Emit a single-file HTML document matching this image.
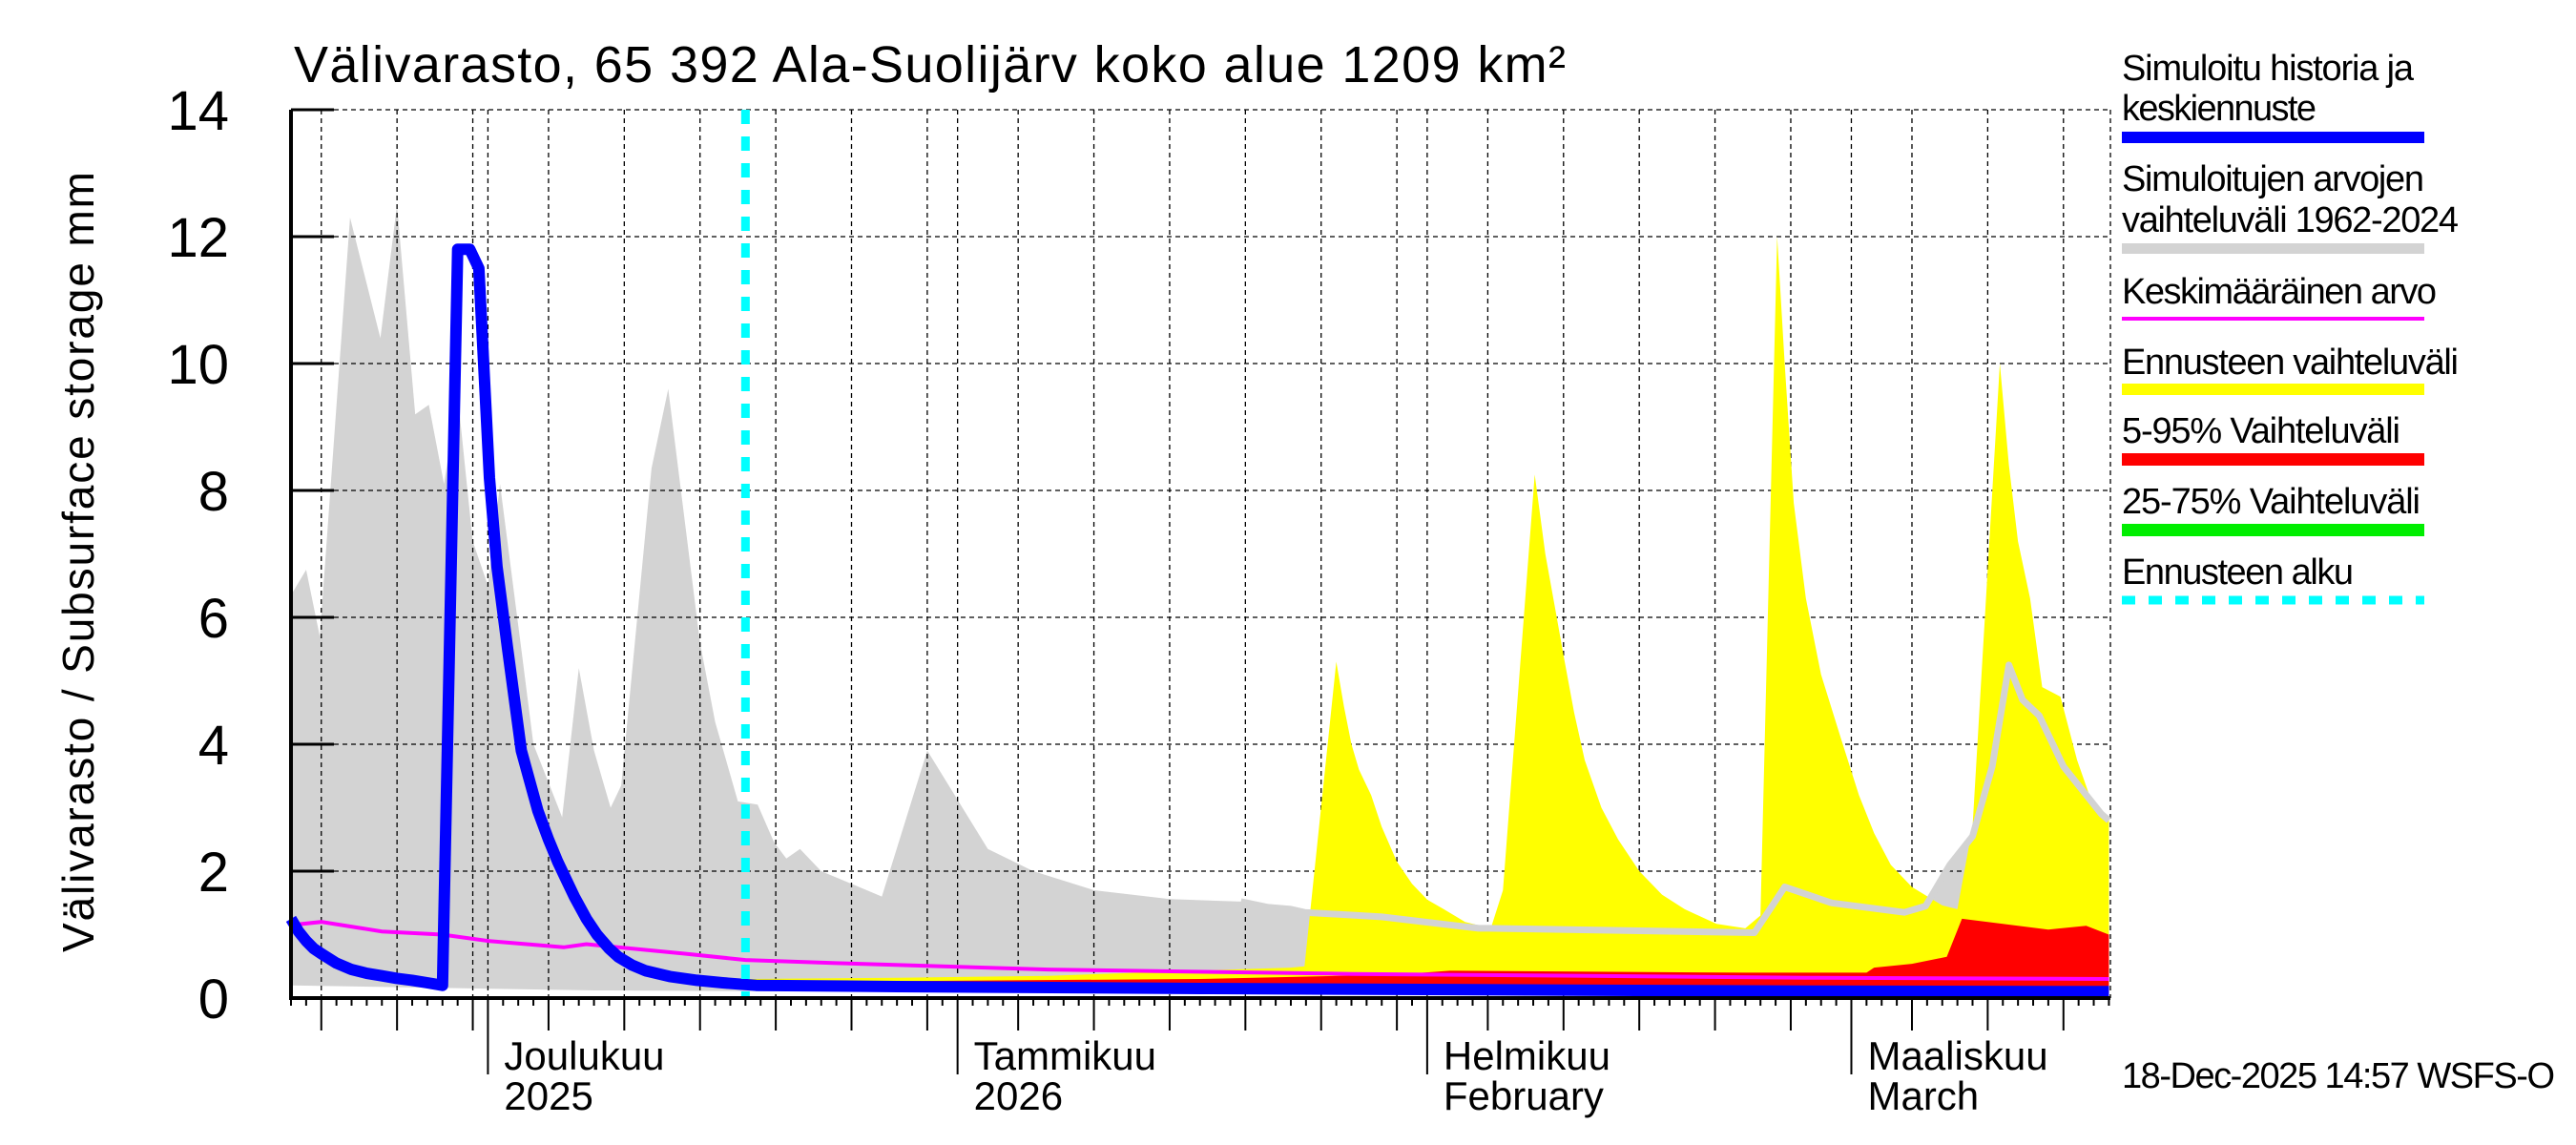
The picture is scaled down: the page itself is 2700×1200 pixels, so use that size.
<!DOCTYPE html>
<html><head><meta charset="utf-8"><style>
html,body{margin:0;padding:0;background:#fff;}
svg{display:block;font-family:"Liberation Sans",sans-serif;}
</style></head><body>
<svg id="chart" width="2700" height="1200" viewBox="0 0 2700 1200" xmlns="http://www.w3.org/2000/svg">
<text x="308" y="86" font-size="54" textLength="1333">Välivarasto, 65 392 Ala-Suolijärv koko alue 1209 km²</text>
<text transform="translate(98,589) rotate(-90)" text-anchor="middle" font-size="46" textLength="818">Välivarasto / Subsurface storage  mm</text>
<g id="plot"></g>
<g id="legend" font-size="38">
<text x="2224" y="84" textLength="306">Simuloitu historia ja</text>
<text x="2224" y="126" textLength="204">keskiennuste</text>
<rect x="2224" y="138" width="317" height="12" fill="#0000ff"/>
<text x="2224" y="200" textLength="317">Simuloitujen arvojen</text>
<text x="2224" y="243" textLength="353">vaihteluväli 1962-2024</text>
<rect x="2224" y="255" width="317" height="11" fill="#d3d3d3"/>
<text x="2224" y="318" textLength="330">Keskimääräinen arvo</text>
<rect x="2224" y="332" width="317" height="4" fill="#ff00ff"/>
<text x="2224" y="392" textLength="353">Ennusteen vaihteluväli</text>
<rect x="2224" y="402" width="317" height="12" fill="#ffff00"/>
<text x="2224" y="464" textLength="292">5-95% Vaihteluväli</text>
<rect x="2224" y="475" width="317" height="13" fill="#ff0000"/>
<text x="2224" y="538" textLength="313">25-75% Vaihteluväli</text>
<rect x="2224" y="549" width="317" height="13" fill="#00ee00"/>
<text x="2224" y="612" textLength="243">Ennusteen alku</text>
<line x1="2224" y1="629" x2="2541" y2="629" stroke="#00ffff" stroke-width="9" stroke-dasharray="14 14"/>
</g>
<text x="2224" y="1140" font-size="38" textLength="454">18-Dec-2025 14:57 WSFS-O</text>
</svg>
<script>
// data (day index 0 = 18 Nov 2025)
const yTicks = [0,2,4,6,8,10,12,14];
const monthLabels = [["Joulukuu","2025"],["Tammikuu","2026"],["Helmikuu","February"],["Maaliskuu","March"]];
const forecastStartDay = 30;
const histMaxDays = [0,1,1.9,3.9,5.9,7,8.2,9.1,10.1,11,12,13,13.8,15.2,16,17.9,19,20,21.1,21.8,23.8,24.9,27,28,29.5,30.8,31.9,32.7,33.6,35,37,39,42,46,49,53,58,62.7,64.5,66,66.9,72,78.4,79,96.6,98.6,101.7,106.5,107.9,109.5,111,112.3,113.4,114.3,115.4,117,119.5,120];
const histMaxVals = [6.35,6.75,5.7,12.3,10.4,12.5,9.2,9.35,8.1,9.5,7.2,6.5,8.1,5.5,4.0,2.85,5.2,3.9,3.0,3.35,8.35,9.6,5.6,4.35,3.1,3.05,2.45,2.2,2.35,2.0,1.8,1.6,3.9,2.35,2.0,1.7,1.56,1.52,1.43,1.4,1.35,1.28,1.1,1.1,1.03,1.75,1.5,1.35,1.45,2.1,2.55,3.65,5.25,4.7,4.45,3.65,2.9,2.8];
const histMinDays = [0,20,40,60,80,100,120];
const histMinVals = [0.2,0.12,0.1,0.08,0.06,0.05,0.05];
const meanDays = [0,2,6,10,13,18,19.5,26,30,36,50,70,100,120];
const meanVals = [1.15,1.2,1.05,1.0,0.9,0.8,0.85,0.7,0.6,0.55,0.45,0.38,0.32,0.3];
const blueDays = [0,0.5,1,1.5,2,3,4,5,6,7,8,9,10,11,11.8,12.4,13.1,13.6,14.3,15.2,16.3,17,17.6,18.2,18.7,19.5,20.2,21,21.6,22.5,23.4,25,26.8,28.5,30.7,40,60,80,100,120];
const blueVals = [1.25,1.05,0.9,0.78,0.7,0.55,0.45,0.39,0.35,0.31,0.28,0.24,0.2,11.8,11.8,11.5,8.2,6.8,5.5,3.9,2.95,2.5,2.15,1.85,1.6,1.25,1.0,0.78,0.65,0.52,0.43,0.34,0.28,0.24,0.2,0.18,0.15,0.13,0.11,0.1];
const yellowDays = [30,40,50,62,66,66.9,69,69.5,70,70.5,71.3,72,73,74,75,76.1,77.5,79.2,80,82.1,82.8,83.4,84,84.7,85.4,86.5,87.6,89,90.5,92,94.1,96,97,98.1,98.6,99.2,100,101,102.3,103.5,104.5,105.6,107,109,110,111,112.8,113.4,114,114.8,115.6,116.8,117.9,119,120];
const yellowVals = [0.3,0.32,0.35,0.45,0.48,0.5,5.3,4.6,4.0,3.6,3.2,2.7,2.15,1.8,1.55,1.4,1.2,1.1,1.7,8.25,7.0,6.2,5.4,4.5,3.75,3.0,2.5,2.0,1.63,1.4,1.17,1.1,1.3,12.0,10.0,7.8,6.3,5.1,4.1,3.2,2.6,2.1,1.75,1.46,1.4,2.7,10.0,8.4,7.2,6.3,4.9,4.75,3.75,3.0,2.8];
const redDays = [30,60,73,76.5,96,104,104.5,107,109.3,110.3,113,116,118.5,120];
const redVals = [0.25,0.3,0.37,0.43,0.4,0.4,0.48,0.54,0.65,1.25,1.17,1.08,1.14,1.0];
const bandLowDays = [30,120];
const bandLowVals = [0.15,0.08];

const X0=305,X1=2212,Y0=1046,YT=115,NDAYS=120.1;
const PXD=(X1-X0)/NDAYS;
function x(d){return X0+d*PXD;}
function y(v){return Y0-v*(Y0-YT)/14;}
const NS="http://www.w3.org/2000/svg";
const plot=document.getElementById('plot');
function mk(tag,attrs,parent){const e=document.createElementNS(NS,tag);for(const k in attrs)e.setAttribute(k,attrs[k]);(parent||plot).appendChild(e);return e;}
function pts(ds,vs){return ds.map((d,i)=>x(d).toFixed(1)+","+y(vs[i]).toFixed(1));}
function band(ud,uv,ld,lv){return pts(ud,uv).concat(pts(ld,lv).reverse()).join(" ");}

const g=mk('polygon',{points:band(histMaxDays,histMaxVals,histMinDays,histMinVals),fill:'#d3d3d3'});


const start=new Date(2025,10,18);
for(let i=0;i<=120;i++){
  const dt=new Date(start.getTime()+i*86400000);const dm=dt.getDate();
  const xx=x(i);
  let tl=8;
  if(dm%5===0||dm===1){
    const gl=mk('line',{x1:xx,y1:YT,x2:xx,y2:Y0,stroke:'#000','stroke-width':1.3,'stroke-dasharray':'5 4'});
    
    
    tl=34;
  }
  if(dm===1) tl=80;
  const t=mk('line',{x1:xx,y1:Y0,x2:xx,y2:Y0+tl,stroke:'#000','stroke-width':2});
  
  
}
yTicks.forEach(v=>{
  if(v>0){const gl=mk('line',{x1:X0,y1:y(v),x2:X1,y2:y(v),stroke:'#000','stroke-width':1.3,'stroke-dasharray':'5 4'});
  
  }
  const tk=mk('line',{x1:X0,y1:y(v),x2:X0+45,y2:y(v),stroke:'#000','stroke-width':3});
  
  
  const tx=mk('text',{x:240,y:y(v)+21,'text-anchor':'end','font-size':58});
  tx.textContent=v;
  
  
});
const rb=mk('line',{x1:X1,y1:YT,x2:X1,y2:Y0,stroke:'#000','stroke-width':1.3,'stroke-dasharray':'5 4'});


const yb=mk('polygon',{points:band(yellowDays,yellowVals,bandLowDays,bandLowVals),fill:'#ffff00'});


const gd=[],gv=[];histMaxDays.forEach((d,i)=>{if(d>=62){gd.push(d);gv.push(histMaxVals[i]);}});
const gline=mk('polyline',{points:pts(gd,gv).join(" "),fill:'none',stroke:'#d3d3d3','stroke-width':7,'stroke-linejoin':'round'});


const rbnd=mk('polygon',{points:band(redDays,redVals,bandLowDays,bandLowVals),fill:'#ff0000'});


const ml=mk('polyline',{points:pts(meanDays,meanVals).join(" "),fill:'none',stroke:'#ff00ff','stroke-width':4});


const bl=mk('polyline',{points:pts(blueDays,blueVals).join(" "),fill:'none',stroke:'#0000ff','stroke-width':12,'stroke-linejoin':'round'});


const fs=mk('line',{x1:x(forecastStartDay),y1:YT,x2:x(forecastStartDay),y2:Y0,stroke:'#00ffff','stroke-width':9,'stroke-dasharray':'15 13'});


const ax=mk('line',{x1:X0,y1:YT,x2:X0,y2:Y0+2,stroke:'#000','stroke-width':4});


const bx=mk('line',{x1:X0,y1:Y0,x2:X1,y2:Y0,stroke:'#000','stroke-width':4});


const monthStarts=[13,44,75,103];
monthStarts.forEach((d,i)=>{
  const t1=mk('text',{x:x(d)+17,y:1121,'font-size':42});
  t1.textContent=monthLabels[i][0];
  
  
  const t2=mk('text',{x:x(d)+17,y:1163,'font-size':42});
  t2.textContent=monthLabels[i][1];
  
  
});
</script>
</body></html>
